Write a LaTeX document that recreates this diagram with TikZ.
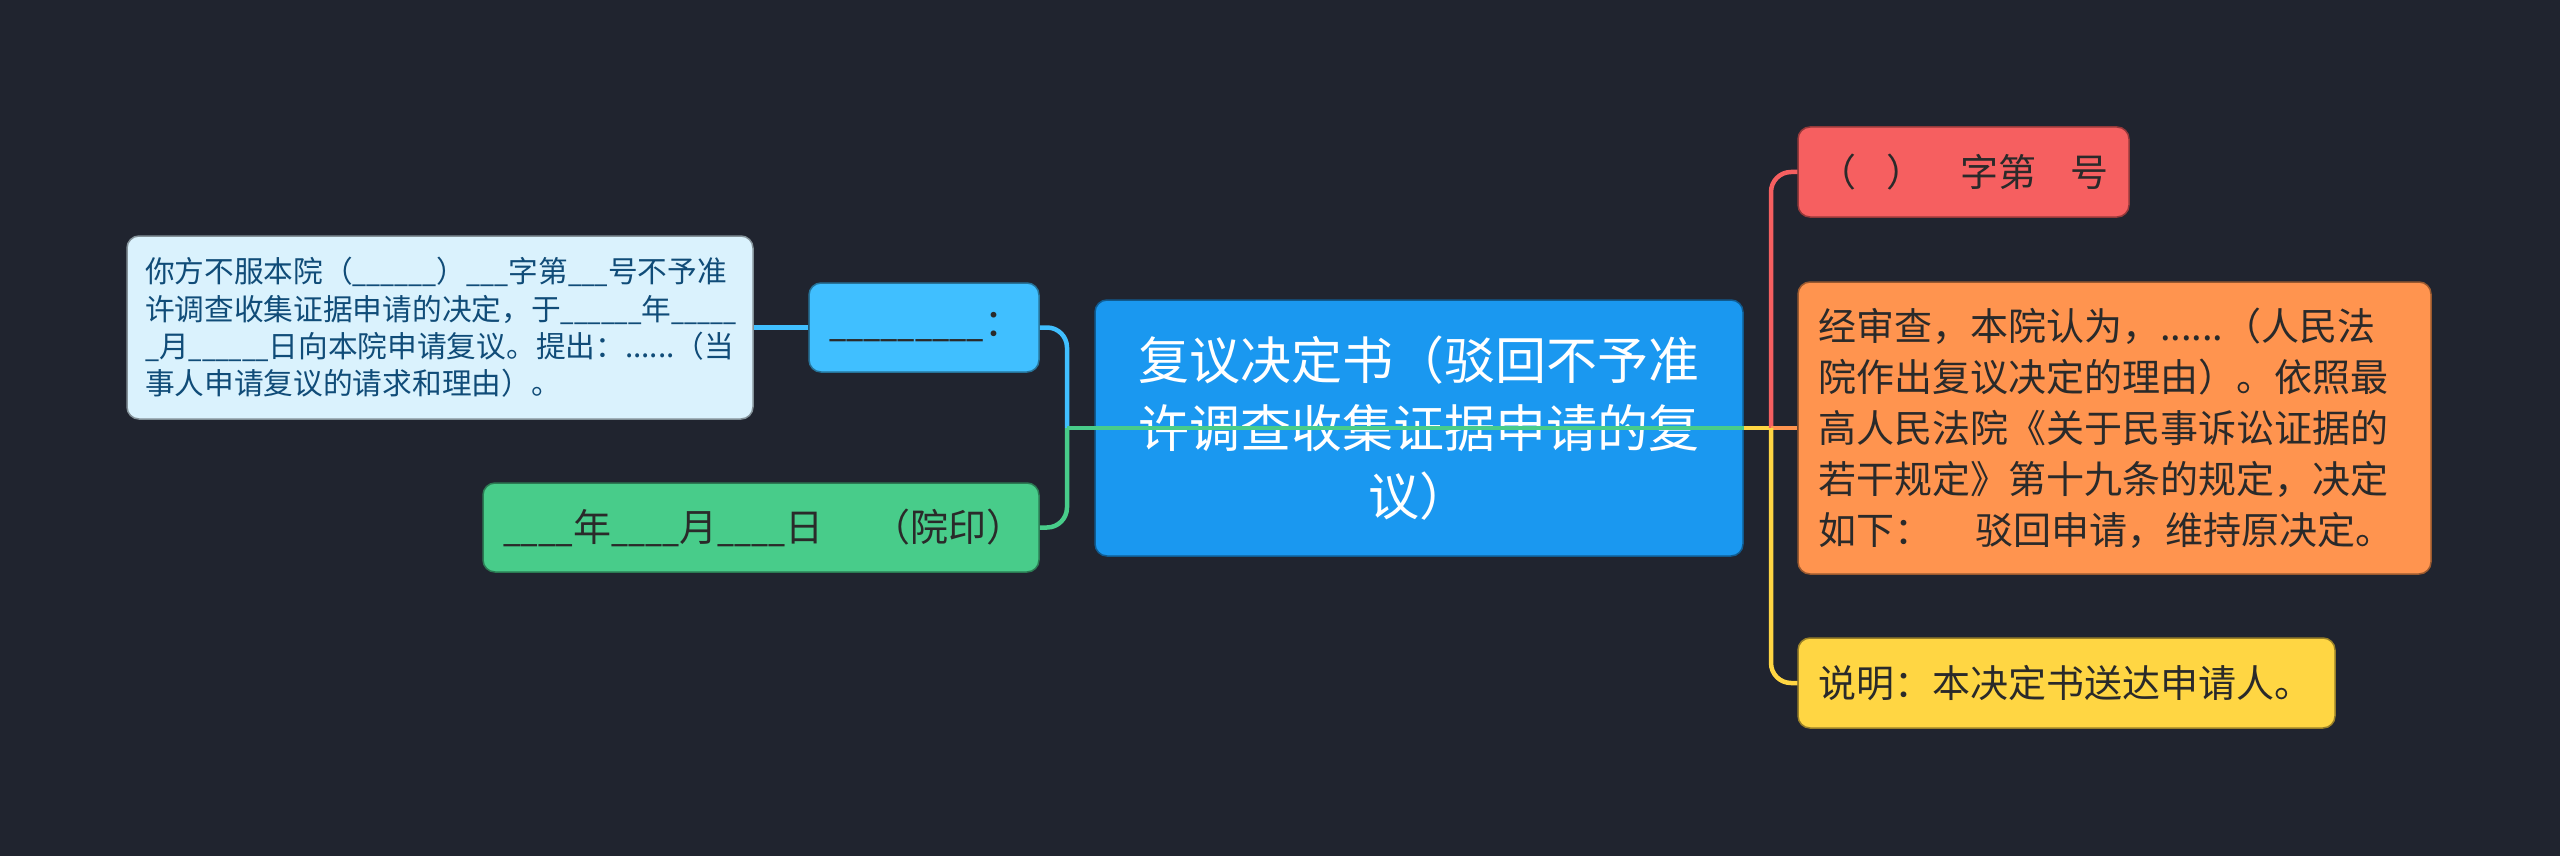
\documentclass[tikz,border=0pt]{standalone}
\usepackage{graphicx}
\usepackage{fontspec}
\setmainfont{Noto Sans CJK SC}
\newlength\ulw
\newcommand\ul[2]{\settowidth\ulw{#2}\pgfmathsetmacro\ulr{#1/\ulw}\scalebox{\ulr}[1]{#2}}
\definecolor{bg}{HTML}{20242F}
\definecolor{cmain}{HTML}{1A98F0}
\definecolor{cblue}{HTML}{40BFFF}
\definecolor{clight}{HTML}{DAF2FD}
\definecolor{tlight}{HTML}{104C78}
\definecolor{cgreen}{HTML}{48CC8A}
\definecolor{cred}{HTML}{F65F60}
\definecolor{corange}{HTML}{FF944F}
\definecolor{cyellow}{HTML}{FFD643}
\definecolor{tdark}{HTML}{2A2A2A}
\begin{document}
\begin{tikzpicture}[x=1pt,y=-1pt,
  box/.style={rounded corners=12pt, inner sep=0pt, line width=1.5pt, draw=black!40!#1, fill=#1},
  conn/.style={line width=4.5pt, draw=#1},
  elbow/.style={rounded corners=20pt}]
\fill[bg] (0,0) rectangle (2560,856);
\useasboundingbox (0,0) rectangle (2560,856);

\node[box=cmain, minimum width=648pt, minimum height=256pt, text=white,
  font=\fontsize{51}{68}\selectfont, align=center] (center) at (1419,428)
  {复议决定书（驳回不予准\\许调查收集证据申请的复\\议）};

\node[box=clight, minimum width=626pt, minimum height=183pt, text width=590pt,
  align=left, text=tlight, font=\fontsize{29.7}{37.3}\selectfont] (light) at (440,327.5)
  {你方不服本院（\ul{84}{\_\_\_\_\_\_}）\ul{42}{\_\_\_}字第\ul{40}{\_\_\_}号不予准\\许调查收集证据申请的决定，于\ul{81}{\_\_\_\_\_\_}年\ul{65}{\_\_\_\_\_}\\\ul{14}{\_}月\ul{80}{\_\_\_\_\_\_}日向本院申请复议。提出：......（当\\事人申请复议的请求和理由）。};

\node[box=cblue, minimum width=230pt, minimum height=89pt, text width=190pt,
  align=left, text=tdark, font=\fontsize{38}{51}\selectfont] (blue) at (924,327.5)
  {\ul{155}{\_\_\_\_\_\_\_\_\_}：};

\node[box=cgreen, minimum width=556pt, minimum height=89pt, text width=516pt,
  align=left, text=tdark, font=\fontsize{38}{51}\selectfont] (green) at (761,527.5)
  {\ul{70}{\_\_\_\_}年\ul{68}{\_\_\_\_}月\ul{68}{\_\_\_\_}日　\kern0.3em（院印）};

\node[box=cred, minimum width=331pt, minimum height=90pt, text width=291pt,
  align=left, text=tdark, font=\fontsize{38}{51}\selectfont] (red) at (1963.5,172)
  {（\kern0.8em）\kern0.95em字第\kern0.9em号};

\node[box=corange, minimum width=633pt, minimum height=292pt, text width=593pt,
  align=left, text=tdark, font=\fontsize{38}{51}\selectfont] (orange) at (2114.5,428)
  {经审查，本院认为，......（人民法\\院作出复议决定的理由）。依照最\\高人民法院《关于民事诉讼证据的\\若干规定》第十九条的规定，决定\\如下：\kern1.15em驳回申请，维持原决定。};

\node[box=cyellow, minimum width=537pt, minimum height=90pt, text width=497pt,
  align=left, text=tdark, font=\fontsize{38}{51}\selectfont] (yellow) at (2066.5,683)
  {说明：本决定书送达申请人。};

\coordinate (jl) at (1067,428);
\coordinate (jr) at (1771,428);

\draw[conn=cblue] (light.east) -- (blue.west);
\draw[conn=cblue, elbow] (blue.east) -| (jl);
\draw[conn=cgreen] (center.east) -- (jl);
\draw[conn=cgreen, elbow] (jl) |- (green.east);
\draw[conn=cyellow] (center.east) -- (jr);
\draw[conn=cred, elbow] (jr) |- (red.west);
\draw[conn=corange] (jr) -- (orange.west);
\draw[conn=cyellow, elbow] (jr) |- (yellow.west);
\end{tikzpicture}
\end{document}
